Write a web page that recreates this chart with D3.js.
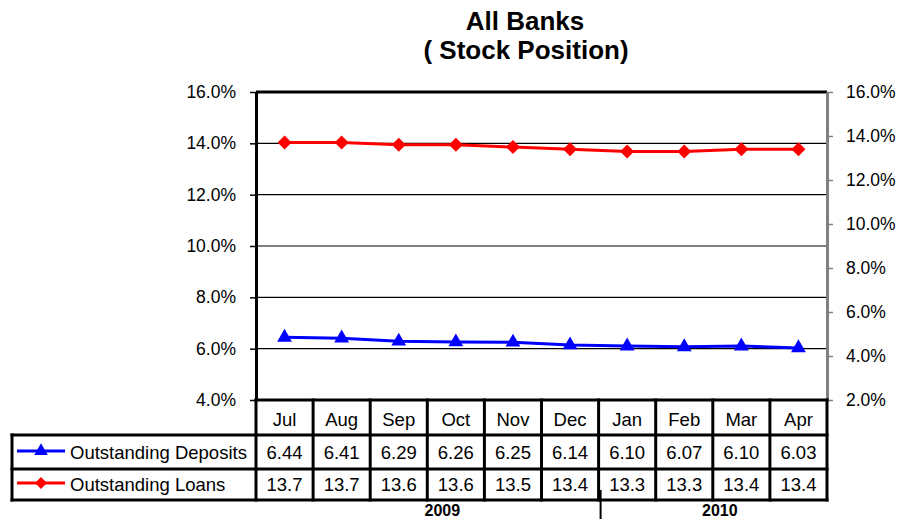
<!DOCTYPE html>
<html>
<head>
<meta charset="utf-8">
<script src="https://cdn.jsdelivr.net/npm/d3@7"></script>
<style>
  body { margin: 0; background: #fff; }
  svg { display: block; font-family: Arial, "Liberation Sans", sans-serif; }
</style>
</head>
<body>
<div id="chart"></div>
<script>
// data
const months = ["Jul", "Aug", "Sep", "Oct", "Nov", "Dec", "Jan", "Feb", "Mar", "Apr"]
const deposits = [6.44, 6.41, 6.29, 6.26, 6.25, 6.14, 6.10, 6.07, 6.10, 6.03]
const loans = [13.7, 13.7, 13.6, 13.6, 13.5, 13.4, 13.3, 13.3, 13.4, 13.4]
const leftTicks = [4, 6, 8, 10, 12, 14, 16]
const rightTicks = [2, 4, 6, 8, 10, 12, 14, 16]
const years = [{label: "2009", from: 0, to: 6, shift: 15}, {label: "2010", from: 6, to: 10, shift: 7}]

var width = 904, height = 522
var plot = {left: 256, right: 827, top: 92, bottom: 400}
var rows = [400, 435, 469, 500]   // table row boundaries
var legendLeft = 12

var svg = d3.select("#chart").append("svg")
    .attr("width", width)
    .attr("height", height)

// title
svg.append("text")
    .attr("x", 525).attr("y", 30)
    .attr("text-anchor", "middle")
    .style("font-size", "26px").style("font-weight", "bold")
    .text("All Banks")
svg.append("text")
    .attr("x", 526).attr("y", 59)
    .attr("text-anchor", "middle")
    .style("font-size", "26px").style("font-weight", "bold")
    .text("( Stock Position)")

var xScale = d3.scaleBand()
    .domain(months)
    .range([plot.left, plot.right])
var yLeft = d3.scaleLinear().domain([4, 16]).range([plot.bottom, plot.top])
var yRight = d3.scaleLinear().domain([2, 16]).range([plot.bottom, plot.top])

// gridlines
svg.append("g").selectAll("line")
    .data(leftTicks.slice(1, -1))
    .enter().append("line")
        .attr("x1", plot.left).attr("x2", plot.right)
        .attr("y1", d => yLeft(d)).attr("y2", d => yLeft(d))
        .attr("stroke", "#000").attr("stroke-width", 1.2)

// top border
svg.append("line")
    .attr("x1", plot.left).attr("x2", plot.right)
    .attr("y1", plot.top).attr("y2", plot.top)
    .attr("stroke", "#000").attr("stroke-width", 3)

// left axis
var leftAxis = svg.append("g")
    .attr("transform", "translate(" + plot.left + ",0)")
    .call(d3.axisLeft(yLeft).tickValues(leftTicks).tickSizeInner(6).tickSizeOuter(0)
        .tickPadding(14).tickFormat(d => d3.format(".1f")(d) + "%"))
leftAxis.select(".domain").attr("stroke", "#000").attr("stroke-width", 3)
leftAxis.selectAll(".tick line").attr("stroke", "#000").attr("stroke-width", 1.5)
leftAxis.selectAll("text").style("font-size", "17.5px").attr("fill", "#000")
    .style("font-family", "Arial, 'Liberation Sans', sans-serif")

// right axis
var rightAxis = svg.append("g")
    .attr("transform", "translate(" + plot.right + ",0)")
    .call(d3.axisRight(yRight).tickValues(rightTicks).tickSizeInner(6).tickSizeOuter(0)
        .tickPadding(13).tickFormat(d => d3.format(".1f")(d) + "%"))
rightAxis.select(".domain").attr("stroke", "#808080").attr("stroke-width", 3)
rightAxis.selectAll(".tick line").attr("stroke", "#808080").attr("stroke-width", 1.5)
rightAxis.selectAll("text").style("font-size", "17.5px").attr("fill", "#000")
    .style("font-family", "Arial, 'Liberation Sans', sans-serif")

var xc = d => xScale(d) + xScale.bandwidth() / 2

// deposits line (left axis)
svg.append("path")
    .datum(deposits)
    .attr("fill", "none").attr("stroke", "#0000ff").attr("stroke-width", 3)
    .attr("d", d3.line().x((d, i) => xc(months[i])).y(d => yLeft(d)))
svg.append("g").selectAll("path")
    .data(deposits)
    .enter().append("path")
        .attr("d", d3.symbol(d3.symbolTriangle, 95))
        .attr("transform", (d, i) => "translate(" + xc(months[i]) + "," + yLeft(d) + ")")
        .attr("fill", "#0000ff")

// loans line (right axis)
svg.append("path")
    .datum(loans)
    .attr("fill", "none").attr("stroke", "#ff0000").attr("stroke-width", 3)
    .attr("d", d3.line().x((d, i) => xc(months[i])).y(d => yRight(d)))
svg.append("g").selectAll("path")
    .data(loans)
    .enter().append("path")
        .attr("d", d3.symbol(d3.symbolSquare, 98))
        .attr("transform", (d, i) => "translate(" + xc(months[i]) + "," + yRight(d) + ")rotate(45)")
        .attr("fill", "#ff0000")

// data table
var table = svg.append("g")
var border = {stroke: "#000", w: 3}

function hline(x1, x2, y) {
    table.append("line").attr("x1", x1).attr("x2", x2).attr("y1", y).attr("y2", y)
        .attr("stroke", border.stroke).attr("stroke-width", border.w).attr("stroke-linecap", "square")
}
function vline(x, y1, y2) {
    table.append("line").attr("x1", x).attr("x2", x).attr("y1", y1).attr("y2", y2)
        .attr("stroke", border.stroke).attr("stroke-width", border.w).attr("stroke-linecap", "square")
}

hline(plot.left, plot.right, rows[0])
hline(legendLeft, plot.right, rows[1])
hline(legendLeft, plot.right, rows[2])
hline(legendLeft, plot.right, rows[3])
vline(legendLeft, rows[1], rows[3])
months.forEach(m => vline(xScale(m), rows[0], rows[3]))
vline(plot.right, rows[0], rows[3])

table.selectAll(".hdr")
    .data(months)
    .enter().append("text")
        .attr("x", d => xc(d)).attr("y", 426)
        .attr("text-anchor", "middle")
        .style("font-size", "18.5px")
        .text(d => d)

var series = [
    {name: "Outstanding Deposits", values: deposits, fmt: d3.format(".2f"), color: "#0000ff", symbol: d3.symbolTriangle, size: 80, rot: 0, base: 459},
    {name: "Outstanding Loans", values: loans, fmt: d3.format(".1f"), color: "#ff0000", symbol: d3.symbolSquare, size: 70, rot: 45, base: 491}
]

series.forEach(function(s) {
    table.selectAll(null)
        .data(s.values)
        .enter().append("text")
            .attr("x", (d, i) => xc(months[i])).attr("y", s.base)
            .attr("text-anchor", "middle")
            .style("font-size", "18.5px")
            .text(d => s.fmt(d))
    var ly = s.base - 8
    table.append("line")
        .attr("x1", 17).attr("x2", 65).attr("y1", ly).attr("y2", ly)
        .attr("stroke", s.color).attr("stroke-width", 3)
    table.append("path")
        .attr("d", d3.symbol(s.symbol, s.size))
        .attr("transform", "translate(41," + ly + ")rotate(" + s.rot + ")")
        .attr("fill", s.color)
    table.append("text")
        .attr("x", 70).attr("y", s.base)
        .style("font-size", "18.5px")
        .text(s.name)
})

// year labels
years.forEach(function(y) {
    var x0 = xScale(months[y.from])
    var x1 = y.to < months.length ? xScale(months[y.to]) : plot.right
    svg.append("text")
        .attr("x", (x0 + x1) / 2 + y.shift).attr("y", 516)
        .attr("text-anchor", "middle")
        .style("font-size", "16px").style("font-weight", "bold")
        .text(y.label)
})
svg.append("line")
    .attr("x1", xScale("Jan") + 2).attr("x2", xScale("Jan") + 2)
    .attr("y1", 490).attr("y2", 519)
    .attr("stroke", "#000").attr("stroke-width", 2)
</script>
</body>
</html>
